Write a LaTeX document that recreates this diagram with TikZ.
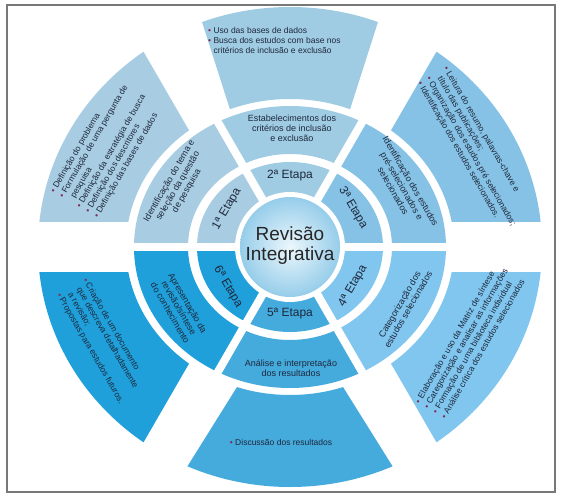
\documentclass[tikz,border=0pt]{standalone}
\usepackage{fontspec}
\setmainfont{Liberation Sans}
\usepackage{xcolor}
\usetikzlibrary{positioning}
\definecolor{segone}{RGB}{168,205,226}
\definecolor{segtwo}{RGB}{160,204,227}
\definecolor{segthree}{RGB}{134,194,229}
\definecolor{segfour}{RGB}{128,198,238}
\definecolor{segfive}{RGB}{69,171,221}
\definecolor{segsix}{RGB}{31,160,218}
\definecolor{inkcolor}{RGB}{30,40,60}
\definecolor{bulletcolor}{RGB}{125,45,85}
\definecolor{framecolor}{RGB}{120,120,120}
\definecolor{hubinner}{RGB}{236,247,252}
\definecolor{hubouter}{RGB}{150,205,234}
\newcommand{\bul}{\textcolor{bulletcolor}{\textbullet}\ }
\newcommand{\cont}{\phantom{\textbullet\ }}
\newcommand{\outerring}[1]{\fill[#1,even odd rule] (0,0) ellipse [x radius=252pt,y radius=240pt] (0,0) ellipse [x radius=164pt,y radius=148pt];}

\begin{document}
\begin{tikzpicture}[every node/.style={font=\fontsize{9}{10}\selectfont,text=inkcolor},
  etapa/.style={font=\fontsize{12}{13}\selectfont},
  middesc/.style={align=center,inner sep=0pt},
  outdesc/.style={align=left,inner sep=0pt,font=\fontsize{8.5}{10}\selectfont}]
\useasboundingbox (-290pt,-256pt) rectangle (274pt,247pt);
\draw[framecolor,line width=1.6pt] (-283pt,-245pt) rectangle (265pt,242pt);
% inner and middle rings
\foreach \a/\c in {0/segthree,60/segtwo,120/segone,180/segsix,240/segfive,300/segfour}{
  \begin{scope}
    \clip (0,0) -- (\a:400pt) -- ({\a+60}:400pt) -- cycle;
    \fill[\c,even odd rule] (0,0) ellipse [x radius=156pt,y radius=141pt] (0,0) ellipse [x radius=102pt,y radius=93pt];
    \fill[\c] (0,0) ellipse [x radius=93pt,y radius=85pt];
  \end{scope}
}
\foreach \a in {0,60,120} \draw[white,line width=8pt] (\a:170pt) -- ({\a+180}:170pt);
% outer ring
\begin{scope}\clip (-48pt,25pt) -- (-207pt,300pt) -- (-400pt,300pt) -- (-400pt,25pt) -- cycle; \outerring{segone}\end{scope}
\begin{scope}\clip (-48pt,100pt) -- (-112pt,300pt) -- (112pt,300pt) -- (48pt,100pt) -- cycle; \outerring{segtwo}\end{scope}
\begin{scope}\clip (48pt,25pt) -- (207pt,300pt) -- (400pt,300pt) -- (400pt,25pt) -- cycle; \outerring{segthree}\end{scope}
\begin{scope}\clip (48pt,-25pt) -- (207pt,-300pt) -- (400pt,-300pt) -- (400pt,-25pt) -- cycle; \outerring{segfour}\end{scope}
\begin{scope}\clip (-28pt,-100pt) -- (-153pt,-300pt) -- (153pt,-300pt) -- (28pt,-100pt) -- cycle; \outerring{segfive}\end{scope}
\begin{scope}\clip (-48pt,-25pt) -- (-207pt,-300pt) -- (-400pt,-300pt) -- (-400pt,-25pt) -- cycle; \outerring{segsix}\end{scope}
% hub
\fill[white] (0,0) circle (55pt);
\shade[inner color=hubinner,outer color=hubouter] (0,0) circle (50pt);
\node[font=\fontsize{19}{20}\selectfont,align=center,text=black!85] (hub) at (0,1pt) {Revisão\\Integrativa};
% etapas
\node[etapa,rotate=60] (etapaone) at (-63pt,38pt) {1ª Etapa};
\node[etapa] (etapatwo) at (0,71pt) {2ª Etapa};
\node[etapa,rotate=-60] (etapathree) at (63pt,39pt) {3ª Etapa};
\node[etapa,rotate=60] (etapafour) at (63pt,-39pt) {4ª Etapa};
\node[etapa] (etapafive) at (0,-67pt) {5ª Etapa};
\node[etapa,rotate=-60] (etapasix) at (-62pt,-40pt) {6ª Etapa};
% middle ring texts
\node[middesc,rotate=60] (midone) at (-112pt,61pt) {Identificação do tema e\\seleção da questão\\de pesquisa};
\node[middesc] (midtwo) at (2pt,119pt) {Estabelecimentos dos\\critérios de inclusão\\e exclusão};
\node[middesc,rotate=-60] (midthree) at (112pt,61pt) {Identificação dos estudos\\pré-selecionados e\\selecionados};
\node[middesc,rotate=60] (midfour) at (114pt,-60pt) {Categorização dos\\estudos selecionados};
\node[middesc] (midfive) at (1pt,-121pt) {Análise e interpretação\\dos resultados};
\node[middesc,rotate=-60] (midsix) at (-111pt,-61pt) {Apresentação da\\revisão/síntese\\do conhecimento};
% outer ring texts
\node[outdesc,rotate=60] (outone) at (-183pt,98pt) {\bul Definição do problema\\\bul Formulação de uma pergunta de\\\cont pesquisa\\\bul Definição da estratégia de busca\\\bul Definição dos descritores\\\bul Definição das bases de dados};
\node[outdesc,anchor=north west] (outtwo) at (-82pt,220pt) {\bul Uso das bases de dados\\\bul Busca dos estudos com base nos\\\cont critérios de inclusão e exclusão};
\node[outdesc,rotate=-60] (outthree) at (185pt,98pt) {\bul Leitura do resumo, palavras-chave e\\\cont título das publicações;\\\bul Organização dos estudos pré selecionados;\\\bul Identificação dos estudos selecionados.};
\node[outdesc,rotate=60] (outfour) at (180pt,-94pt) {\bul Elaboração e uso da Matriz de síntese\\\bul Categorização e analisar as informações\\\bul Formação de uma biblioteca individual\\\bul Análise crítica dos estudos selecionados};
\node[outdesc] (outfive) at (-9pt,-195pt) {\bul Discussão dos resultados};
\node[outdesc,rotate=-60] (outsix) at (-187pt,-94pt) {\bul Criação de um documento\\\cont que descreva detalhadamente\\\cont a revisão;\\\bul Propostas para estudos futuros.};
\end{tikzpicture}
\end{document}
